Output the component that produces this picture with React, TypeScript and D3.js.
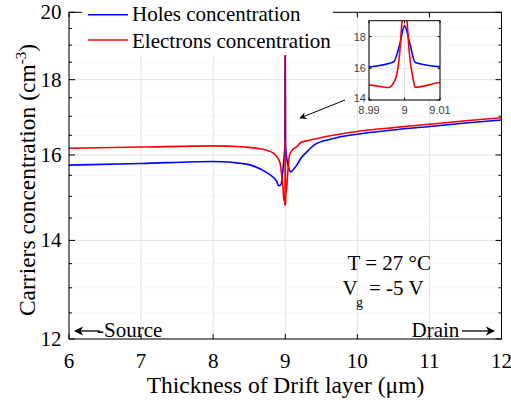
import React from "react";
import * as d3 from "d3";

// values
const holesX = [6, 7, 8, 8.44, 8.72, 8.84, 8.88, 8.907, 8.94, 8.96, 8.976, 8.99, 8.9969, 8.9987, 9.0, 9.0015, 9.003, 9.01, 9.024, 9.045, 9.069, 9.09, 9.115, 9.16, 9.21, 9.3, 9.4, 9.625, 10, 10.5, 11, 11.5, 12];
const holesY = [15.75, 15.79, 15.84, 15.78, 15.59, 15.44, 15.36, 15.25, 15.27, 15.5, 15.79, 16.08, 16.39, 17.54, 18.69, 17.56, 16.37, 16.1, 15.88, 15.7, 15.59, 15.6, 15.65, 15.75, 15.9, 16.08, 16.25, 16.4, 16.53, 16.64, 16.73, 16.82, 16.9];

const electronsX = [6, 7, 8, 8.44, 8.72, 8.84, 8.88, 8.93, 8.95, 8.968, 8.98, 8.99, 8.9955, 8.9973, 8.9987, 8.9993, 9.0, 9.0007, 9.0013, 9.0025, 9.003, 9.01, 9.02, 9.03, 9.046, 9.06, 9.08, 9.11, 9.16, 9.21, 9.35, 9.625, 10, 10.5, 11, 11.5, 12];
const electronsY = [16.17, 16.2, 16.23, 16.2, 16.13, 16.04, 15.97, 15.79, 15.5, 15.23, 14.9, 14.94, 14.79, 15.25, 17.1, 19.0, 20.0, 19.0, 17.1, 15.25, 14.8, 15.1, 15.2, 15.45, 15.8, 16.0, 16.08, 16.15, 16.21, 16.31, 16.38, 16.49, 16.6, 16.7, 16.79, 16.88, 16.96];

const xTicks = [6, 7, 8, 9, 10, 11, 12];
const yTicks = [12, 14, 16, 18, 20];
const yMinor = [12.5, 13, 13.5, 14.5, 15, 15.5, 16.5, 17, 17.5, 18.5, 19, 19.5];
const insetXTicks = [8.99, 9, 9.01];
const insetYTicks = [14, 16, 18];

const serif = "'Liberation Serif', 'Times New Roman', serif";
const sans = "'Liberation Sans', Arial, sans-serif";

const App = () => {
  const left = 69, right = 501.5, top = 12.3, bottom = 339;
  const x = d3.scaleLinear().domain([6, 12]).range([left, right]);
  const y = d3.scaleLog().domain([12, 20]).range([bottom, top]);

  const holes = holesX.map((v, i) => [v, holesY[i]] as [number, number]);
  const electrons = electronsX.map((v, i) => [v, electronsY[i]] as [number, number]);

  const line = d3.line<[number, number]>()
    .x(d => x(d[0]))
    .y(d => y(d[1]))
    .curve(d3.curveMonotoneX);

  // inset
  const il = 369, ir = 440, it = 20.7, ib = 100;
  const ix = d3.scaleLinear().domain([8.99, 9.01]).range([il, ir]);
  const iy = d3.scaleLinear().domain([14, 19]).range([ib, it]);
  const iline = d3.line<[number, number]>()
    .x(d => ix(d[0]))
    .y(d => iy(d[1]))
    .curve(d3.curveMonotoneX);
  const insetHoles = holes.filter(d => d[0] >= 8.98 && d[0] <= 9.02);
  const insetElectrons = electrons.filter(d => d[0] >= 8.98 && d[0] <= 9.02);

  return (
    <svg width={511} height={403} style={{ position: "absolute", left: 0, top: 0, background: "#fff" }}>
      <defs>
        <clipPath id="plotClip">
          <rect x={left} y={top} width={right - left} height={bottom - top} />
        </clipPath>
        <clipPath id="insetClip">
          <rect x={il} y={it} width={ir - il} height={ib - it} />
        </clipPath>
        <marker id="head" viewBox="0 0 10 10" refX="9" refY="5" markerWidth="7" markerHeight="7" orient="auto">
          <path d="M0,0 L10,5 L0,10 L3,5 Z" fill="#000" />
        </marker>
      </defs>

      {/* grid */}
      {yMinor.map(t => (
        <line key={"ym" + t} x1={left} x2={right} y1={y(t)} y2={y(t)} stroke="#d9d9d9" strokeDasharray="1,3" />
      ))}
      {yTicks.map(t => (
        <line key={"yg" + t} x1={left} x2={right} y1={y(t)} y2={y(t)} stroke="#e3e3e3" />
      ))}
      {xTicks.map(t => (
        <line key={"xg" + t} x1={x(t)} x2={x(t)} y1={top} y2={bottom} stroke="#e3e3e3" />
      ))}

      {/* curves */}
      <g clipPath="url(#plotClip)">
        <path d={line(holes) || ""} fill="none" stroke="#0000ff" strokeWidth={1.6} />
        <path d={line(electrons) || ""} fill="none" stroke="#ff0000" strokeWidth={1.6} />
        <path d={line(holes.filter(d => d[0] > 8.995 && d[0] < 9.005)) || ""} fill="none" stroke="#0000ff" strokeWidth={1.2} opacity={0.5} />
      </g>

      {/* frame and ticks */}
      <rect x={left} y={top} width={right - left} height={bottom - top} fill="none" stroke="#000" strokeWidth={1} />
      {xTicks.map(t => (
        <g key={"xt" + t}>
          <line x1={x(t)} x2={x(t)} y1={bottom} y2={bottom - 5} stroke="#000" />
          <line x1={x(t)} x2={x(t)} y1={top} y2={top + 5} stroke="#000" />
          <text x={x(t)} y={367.5} textAnchor="middle" fontFamily={serif} fontSize={21}>{t}</text>
        </g>
      ))}
      {yTicks.map(t => (
        <g key={"yt" + t}>
          <line x1={left} x2={left + 6} y1={y(t)} y2={y(t)} stroke="#000" />
          <line x1={right} x2={right - 6} y1={y(t)} y2={y(t)} stroke="#000" />
          <text x={61.5} y={y(t) + 7} textAnchor="end" fontFamily={serif} fontSize={21}>{t}</text>
        </g>
      ))}
      {yMinor.map(t => (
        <g key={"ymt" + t}>
          <line x1={left} x2={left + 3} y1={y(t)} y2={y(t)} stroke="#000" />
          <line x1={right} x2={right - 3} y1={y(t)} y2={y(t)} stroke="#000" />
        </g>
      ))}

      {/* legend */}
      <rect x={82} y={0} width={251} height={55} fill="#fff" />
      <line x1={88} x2={128} y1={14.7} y2={14.7} stroke="#0000ff" strokeWidth={1.6} />
      <text x={132} y={21} fontFamily={serif} fontSize={21}>Holes concentration</text>
      <line x1={88} x2={128} y1={40} y2={40} stroke="#ff0000" strokeWidth={1.6} />
      <text x={132} y={47.5} fontFamily={serif} fontSize={21}>Electrons concentration</text>

      {/* annotations */}
      <text x={347.5} y={270} fontFamily={serif} fontSize={21}>T = 27 °C</text>
      <text x={342.5} y={295} fontFamily={serif} fontSize={21}>V</text>
      <text x={356} y={307} fontFamily={serif} fontSize={14}>g</text>
      <text x={369} y={295} fontFamily={serif} fontSize={21}>= -5 V</text>

      <line x1={100} x2={75} y1={331} y2={331} stroke="#000" strokeWidth={1.3} markerEnd="url(#head)" />
      <text x={97} y={336.5} fontFamily={serif} fontSize={21}>-Source</text>
      <text x={411.5} y={336.5} fontFamily={serif} fontSize={21}>Drain</text>
      <line x1={462} x2={494} y1={331} y2={331} stroke="#000" strokeWidth={1.3} markerEnd="url(#head)" />

      <line x1={345} y1={100} x2={300} y2={118} stroke="#000" strokeWidth={1} markerEnd="url(#head)" />

      {/* inset */}
      <rect x={il} y={it} width={ir - il} height={ib - it} fill="#fff" />
      {insetYTicks.map(t => (
        <line key={"iyg" + t} x1={il} x2={ir} y1={iy(t)} y2={iy(t)} stroke="#e3e3e3" />
      ))}
      {insetXTicks.map(t => (
        <line key={"ixg" + t} x1={ix(t)} x2={ix(t)} y1={it} y2={ib} stroke="#e3e3e3" />
      ))}
      <g clipPath="url(#insetClip)">
        <path d={iline(insetHoles) || ""} fill="none" stroke="#0000ff" strokeWidth={1.6} />
        <path d={iline(insetElectrons) || ""} fill="none" stroke="#ff0000" strokeWidth={1.6} />
      </g>
      <rect x={il} y={it} width={ir - il} height={ib - it} fill="none" stroke="#000" strokeWidth={1} />
      {insetXTicks.map(t => (
        <g key={"ixt" + t}>
          <line x1={ix(t)} x2={ix(t)} y1={ib} y2={ib - 2.5} stroke="#000" />
          <line x1={ix(t)} x2={ix(t)} y1={it} y2={it + 2.5} stroke="#000" />
          <text x={ix(t)} y={114} textAnchor="middle" fontFamily={sans} fontSize={11} fill="#404040">{t}</text>
        </g>
      ))}
      {insetYTicks.map(t => (
        <g key={"iyt" + t}>
          <line x1={il} x2={il + 2.5} y1={iy(t)} y2={iy(t)} stroke="#000" />
          <line x1={ir} x2={ir - 2.5} y1={iy(t)} y2={iy(t)} stroke="#000" />
          <text x={366} y={t === 14 ? iy(t) + 2 : iy(t) + 4} textAnchor="end" fontFamily={sans} fontSize={11} fill="#404040">{t}</text>
        </g>
      ))}

      {/* axis titles */}
      <text x={285.5} y={392.5} textAnchor="middle" fontFamily={serif} fontSize={23.5}>Thickness of Drift layer (μm)</text>
      <text transform="translate(35,180) rotate(-90)" textAnchor="middle" fontFamily={serif} fontSize={23.5}>
        Carriers concentration (cm<tspan dy={-9} fontSize={15}>-3</tspan><tspan dy={9}>)</tspan>
      </text>
    </svg>
  );
};

export default App;
